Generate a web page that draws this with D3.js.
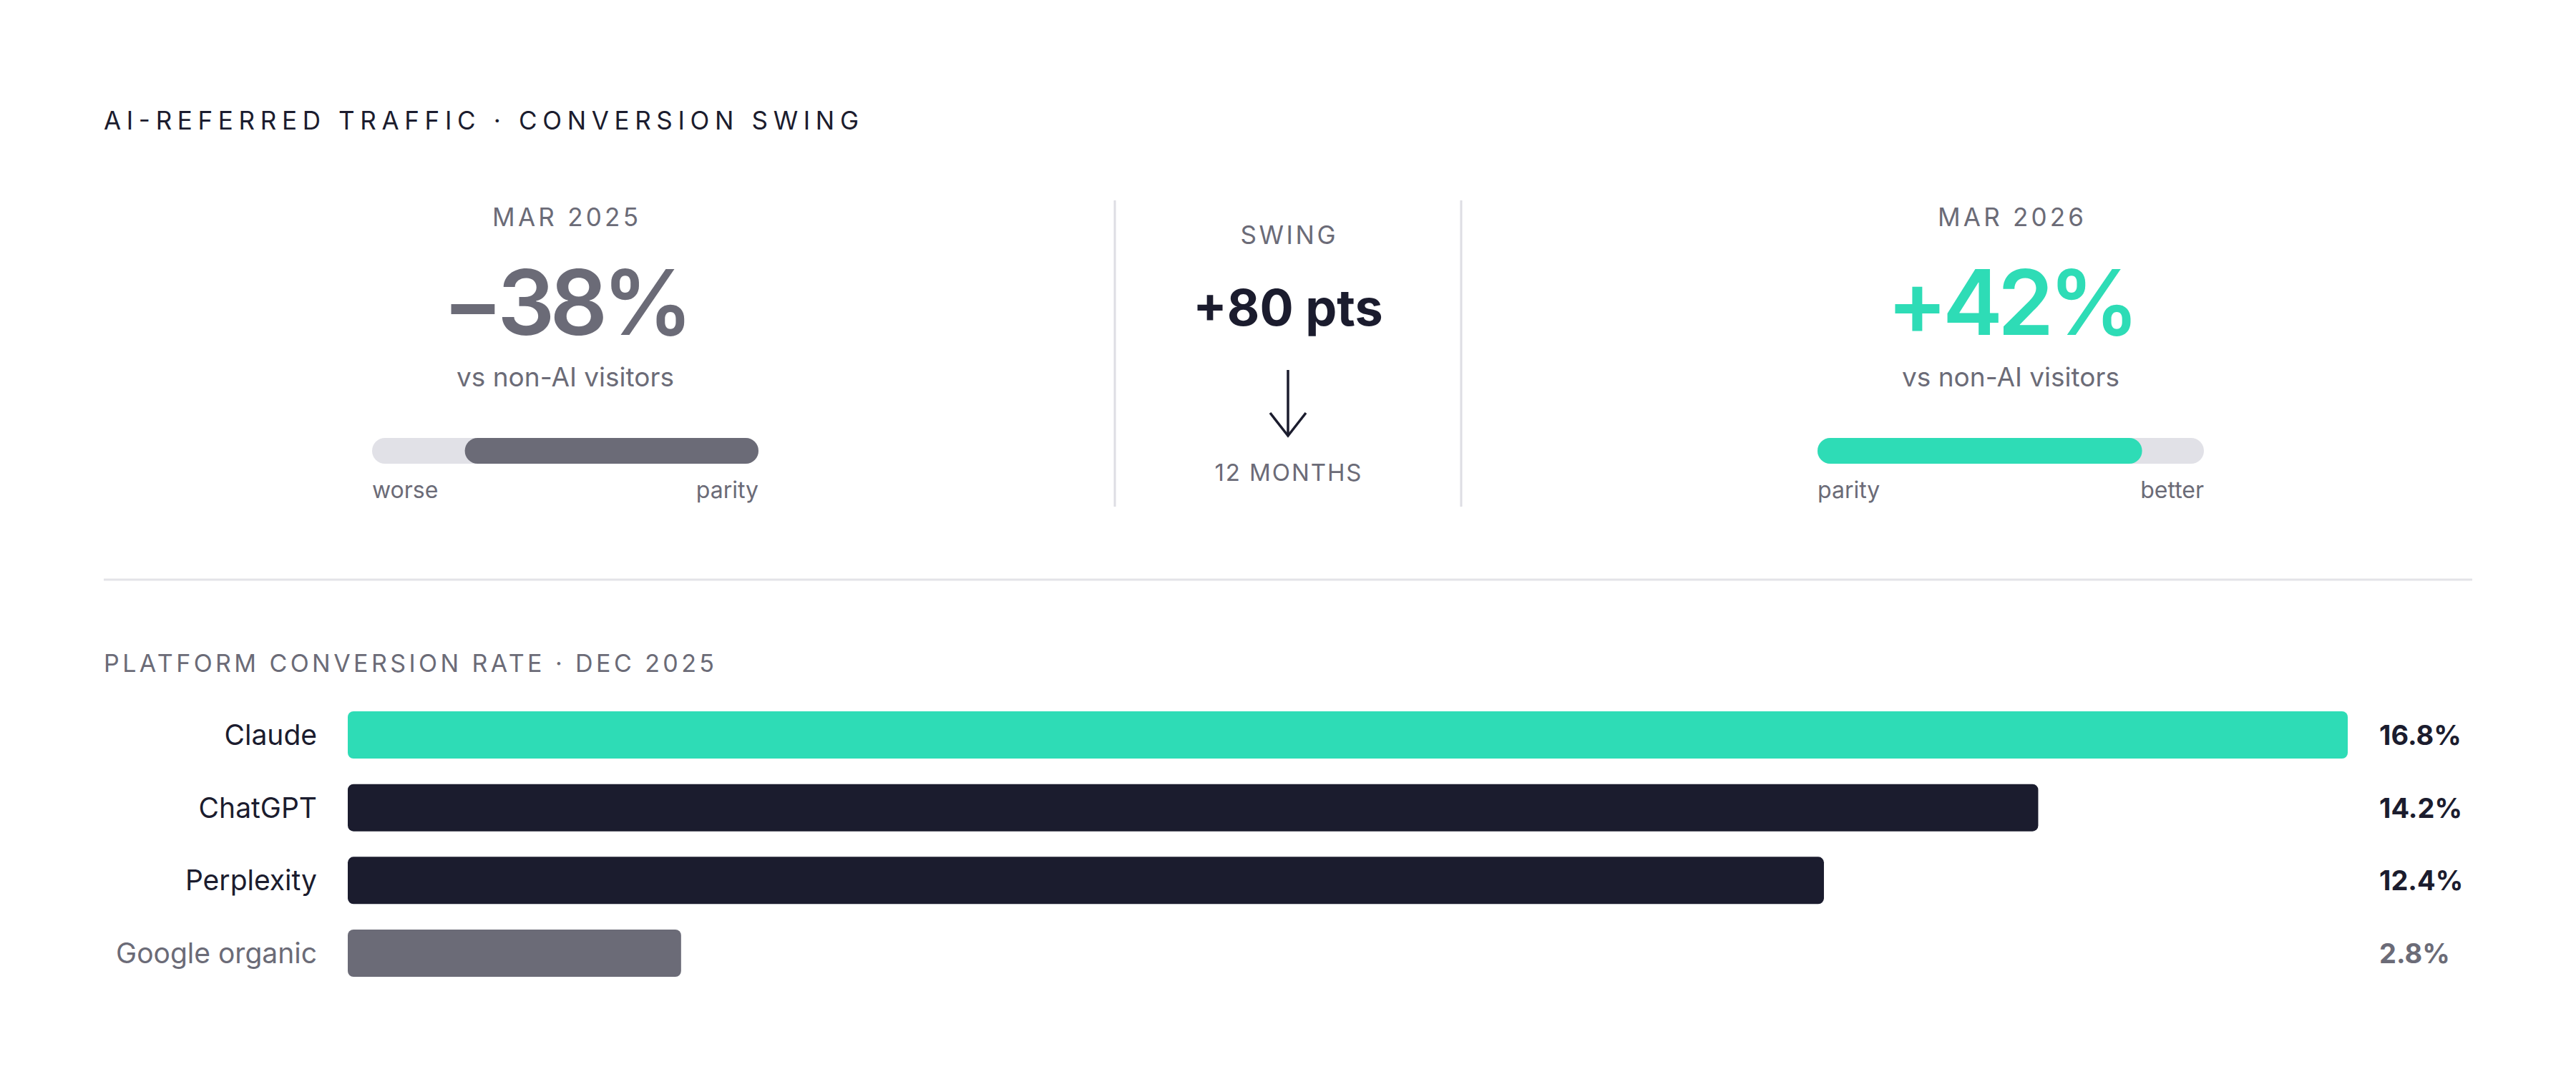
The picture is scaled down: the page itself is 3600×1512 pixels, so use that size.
<!DOCTYPE html>
<html>
<head>
<meta charset="utf-8">
<script src="https://cdn.jsdelivr.net/npm/d3@7/dist/d3.min.js"></script>
<style>
  html, body { margin: 0; padding: 0; background: #ffffff; }
  svg { display: block; font-family: Inter, "DejaVu Sans", sans-serif; }
</style>
</head>
<body>
<svg id="chart" width="3600" height="1512"></svg>
<script>
// ---- Data ----
const swingPeriods = ["MAR 2025", "MAR 2026"];
const swingValues = [-38, 42];           // % vs non-AI visitors
const swingEndLabels = [["worse", "parity"], ["parity", "better"]];
const swingPoints = 80;
const swingSpan = "12 MONTHS";
const gaugeMax = 50;

const platforms = ["Claude", "ChatGPT", "Perplexity", "Google organic"];
const conversionRates = [16.8, 14.2, 12.4, 2.8];

// ---- Styles ----
const TEAL = "#2EDCB6", DARK = "#1B1C2E", GRAY = "#6B6B77", LIGHT = "#E1E1E7";

const svg = d3.select("#chart");
svg.append("rect").attr("width", 3600).attr("height", 1512).attr("fill", "#fff");

function spaced(sel, width) {
  sel.attr("textLength", width).attr("lengthAdjust", "spacing");
  return sel;
}

// Title
spaced(svg.append("text")
  .attr("x", 145).attr("y", 181)
  .attr("font-size", 35).attr("fill", DARK)
  .text("AI-REFERRED TRAFFIC · CONVERSION SWING"), 1055);

// ---- Swing panels ----
const colCenters = [790, 2810];
const gx = d3.scaleLinear().domain([0, gaugeMax]).range([0, 540]);
const trackW = gx(gaugeMax);

swingValues.forEach((v, i) => {
  const cx = colCenters[i];
  const g = svg.append("g");
  spaced(g.append("text").attr("x", cx).attr("y", 316).attr("text-anchor", "middle")
    .attr("font-size", 35).attr("fill", GRAY).text(swingPeriods[i]), 204);
  g.append("text").attr("x", cx).attr("y", 468).attr("text-anchor", "middle")
    .attr("font-size", 126).attr("font-weight", 600)
    .attr("letter-spacing", -7)
    .attr("fill", v < 0 ? GRAY : TEAL)
    .text((v < 0 ? "\u2212" : "+") + Math.abs(v) + "%");
  g.append("text").attr("x", cx).attr("y", 540).attr("text-anchor", "middle")
    .attr("font-size", 37).attr("fill", GRAY).text("vs non-AI visitors");

  const x0 = cx - trackW / 2;
  g.append("rect").attr("x", x0).attr("y", 612).attr("width", trackW).attr("height", 36)
    .attr("rx", 18).attr("fill", LIGHT);
  const w = gx(Math.abs(v));
  g.append("rect")
    .attr("x", v < 0 ? x0 + trackW - w : x0)
    .attr("y", 612).attr("width", w).attr("height", 36)
    .attr("rx", 18).attr("fill", v < 0 ? GRAY : TEAL);

  g.append("text").attr("x", x0).attr("y", 696).attr("font-size", 32).attr("fill", GRAY)
    .text(swingEndLabels[i][0]);
  g.append("text").attr("x", x0 + trackW).attr("y", 696).attr("text-anchor", "end")
    .attr("font-size", 32).attr("fill", GRAY).text(swingEndLabels[i][1]);
});

// Middle column
[1558, 2042].forEach(x => {
  svg.append("line").attr("x1", x).attr("x2", x).attr("y1", 280).attr("y2", 708)
    .attr("stroke", "#DEDEE4").attr("stroke-width", 3);
});
spaced(svg.append("text").attr("x", 1800).attr("y", 341).attr("text-anchor", "middle")
  .attr("font-size", 35).attr("fill", GRAY).text("SWING"), 133);
svg.append("text").attr("x", 1800).attr("y", 455).attr("text-anchor", "middle")
  .attr("font-size", 70).attr("font-weight", 700).attr("fill", DARK)
  .text("+" + swingPoints + " pts");
svg.append("line").attr("x1", 1800).attr("x2", 1800).attr("y1", 517).attr("y2", 608)
  .attr("stroke", DARK).attr("stroke-width", 3.5);
svg.append("path").attr("d", "M1775,577 L1800,609 L1825,577")
  .attr("fill", "none").attr("stroke", DARK).attr("stroke-width", 3.5);
spaced(svg.append("text").attr("x", 1800).attr("y", 672).attr("text-anchor", "middle")
  .attr("font-size", 33).attr("fill", GRAY).text(swingSpan), 205);

// Separator rule
svg.append("line").attr("x1", 145).attr("x2", 3455).attr("y1", 810).attr("y2", 810)
  .attr("stroke", "#E3E3E8").attr("stroke-width", 3);

// ---- Platform bars ----
spaced(svg.append("text").attr("x", 145).attr("y", 939)
  .attr("font-size", 34).attr("fill", GRAY)
  .text("PLATFORM CONVERSION RATE · DEC 2025"), 853);

const x = d3.scaleLinear().domain([0, d3.max(conversionRates)]).range([486, 3281]);
const y = d3.scaleBand().domain(platforms).range([994, 1365]).paddingInner(0.35).paddingOuter(0);
const data = platforms.map((p, i) => ({ p, v: conversionRates[i], i }));
const barColor = d => d.i === 0 ? TEAL : (d.p === "Google organic" ? GRAY : DARK);
const textColor = d => d.p === "Google organic" ? GRAY : DARK;

svg.append("g").selectAll("rect").data(data).join("rect")
  .attr("x", x(0)).attr("y", d => y(d.p))
  .attr("width", d => x(d.v) - x(0)).attr("height", y.bandwidth())
  .attr("rx", 8).attr("fill", barColor);

svg.append("g").selectAll("text").data(data).join("text")
  .attr("x", 443).attr("y", d => y(d.p) + y.bandwidth() / 2 + 14)
  .attr("text-anchor", "end").attr("font-size", 39).attr("fill", textColor)
  .text(d => d.p);

svg.append("g").selectAll("text").data(data).join("text")
  .attr("x", 3325).attr("y", d => y(d.p) + y.bandwidth() / 2 + 14)
  .attr("font-size", 38).attr("font-weight", 700).attr("fill", textColor)
  .text(d => d.v.toFixed(1) + "%");
</script>
</body>
</html>
